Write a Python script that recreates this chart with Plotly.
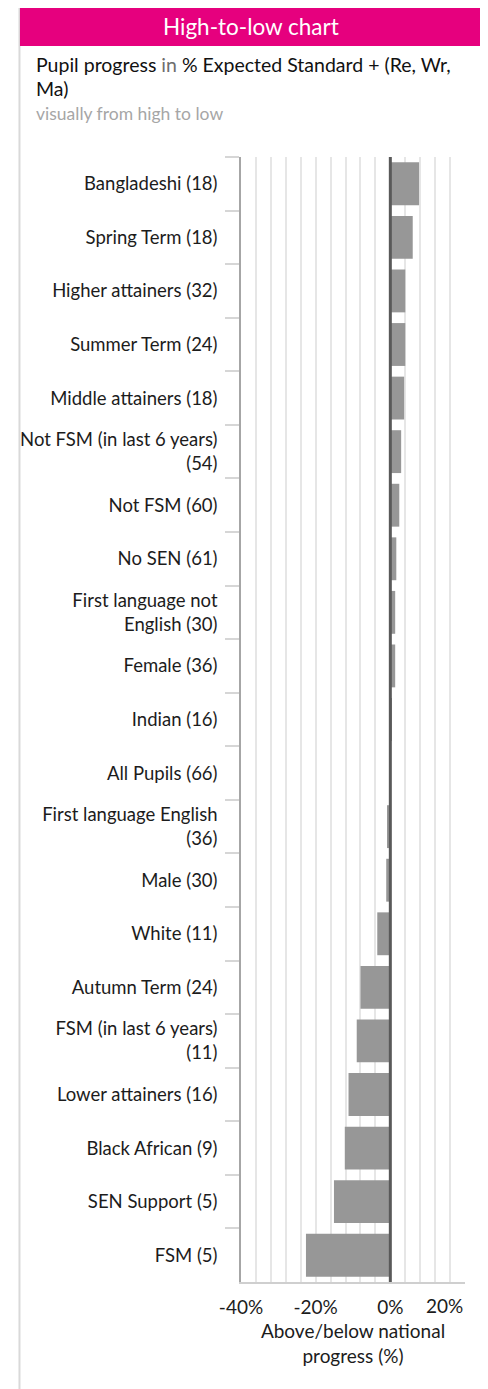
import plotly.graph_objects as go

categories = [
    "Bangladeshi (18)", "Spring Term (18)", "Higher attainers (32)", "Summer Term (24)",
    "Middle attainers (18)", "Not FSM (in last 6 years)<br>(54)", "Not FSM (60)", "No SEN (61)",
    "First language not<br>English (30)", "Female (36)", "Indian (16)", "All Pupils (66)",
    "First language English<br>(36)", "Male (30)", "White (11)", "Autumn Term (24)",
    "FSM (in last 6 years)<br>(11)", "Lower attainers (16)", "Black African (9)",
    "SEN Support (5)", "FSM (5)",
]
values = [7.7, 6.0, 4.0, 4.0, 3.7, 2.9, 2.4, 1.6, 1.3, 1.3, 0.2, 0.0,
          -0.9, -1.1, -3.5, -8.0, -9.0, -11.2, -12.2, -15.1, -22.6]
tick_vals = [-40, -20, 0]
tick_text = ["-40%", "-20%", "0%"]
last_tick_val = 20
last_tick_text = "20%"

OFF = 8  # default page body margin
W, H = 488 - OFF, 1389 - OFF
L, R, T, B = 239 - OFF, 465 - OFF, 157 - OFF, 1282 - OFF
FONT = "Lato"
TXT = "#1c1c1c"

def px(x):
    """page x -> paper x"""
    return (x - OFF - L) / (R - L)

def py(y):
    """page y -> paper y"""
    return (B - (y - OFF)) / (B - T)

fig = go.Figure(go.Bar(
    x=values, y=categories, orientation="h",
    marker=dict(color="#979797", line=dict(width=0)),
    hoverinfo="x+y",
))

fig.update_layout(
    width=W, height=H,
    margin=dict(l=L, r=W - R, t=T, b=H - B),
    paper_bgcolor="white", plot_bgcolor="white",
    font=dict(family=FONT, color=TXT, size=18),
    bargap=0.2,
    showlegend=False,
)

fig.update_xaxes(
    range=[-40, 20],
    tickvals=tick_vals, ticktext=tick_text,
    tickfont=dict(size=19, color=TXT),
    showgrid=True, gridcolor="#e6e6e6", gridwidth=1.5,
    minor=dict(dtick=4, tick0=0, showgrid=True, gridcolor="#e6e6e6", gridwidth=1.5),
    zeroline=False,
    showline=True, linecolor="#cfcfcf", linewidth=1.5,
    ticks="", ticklabelstandoff=7,
    title=dict(text="Above/below national<br>progress (%)", font=dict(size=19, color=TXT), standoff=8),
    fixedrange=True,
)

fig.update_yaxes(
    autorange="reversed",
    tickson="boundaries",
    ticks="outside", ticklen=14, tickwidth=1.5, tickcolor="#d6d6d6",
    showline=True, linecolor="#a6a6a6", linewidth=1.5,
    showgrid=False,
    tickfont=dict(size=18.5, color=TXT),
    ticklabelstandoff=18,
    fixedrange=True,
)

fig.add_vline(x=0, line=dict(color="#595959", width=3), layer="above")

# last tick label, kept inside the plot like the original
fig.add_annotation(x=last_tick_val, y=0, xref="x", yref="paper", yanchor="middle", xanchor="right",
                   yshift=-23, text=last_tick_text, showarrow=False,
                   font=dict(size=19, color=TXT))

# card frame and header
fig.add_shape(type="line", xref="paper", yref="paper", x0=px(15.5), x1=px(15.5), y0=py(0), y1=py(1400),
              line=dict(color="#d9d9d9", width=2), layer="below")
fig.add_shape(type="line", xref="paper", yref="paper", x0=px(481.5), x1=px(481.5), y0=py(0), y1=py(1400),
              line=dict(color="#d9d9d9", width=2), layer="below")
fig.add_shape(type="rect", xref="paper", yref="paper", x0=px(16), x1=px(481), y0=py(46), y1=py(0),
              fillcolor="#e6007e", line=dict(width=0), layer="above")

fig.add_annotation(x=px(249), y=py(26.5), xref="paper", yref="paper", text="High-to-low chart",
                   showarrow=False, font=dict(size=22.5, color="white"), xanchor="center", yanchor="middle")
fig.add_annotation(x=px(30), y=py(64), xref="paper", yref="paper",
                   text="Pupil progress <span style='color:#6e6e6e'>in</span> % Expected Standard + (Re, Wr,",
                   showarrow=False, font=dict(size=19.5, color="#111111"), xanchor="left", yanchor="middle")
fig.add_annotation(x=px(30), y=py(89), xref="paper", yref="paper", text="Ma)",
                   showarrow=False, font=dict(size=19.5, color="#111111"), xanchor="left", yanchor="middle")
fig.add_annotation(x=px(30), y=py(113.5), xref="paper", yref="paper", text="visually from high to low",
                   showarrow=False, font=dict(size=17.5, color="#a6a6a6"), xanchor="left", yanchor="middle")

fig.write_html("out.html", config={"displayModeBar": False})
